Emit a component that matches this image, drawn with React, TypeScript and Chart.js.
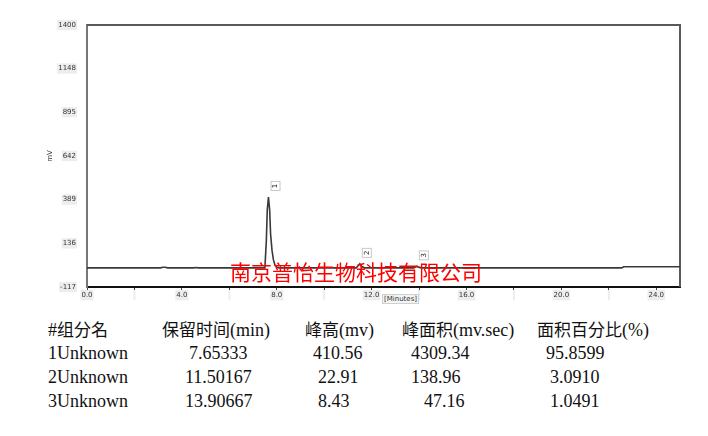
import React, { useEffect, useRef } from "react";
import { Chart, registerables } from "chart.js";

Chart.register(...registerables);

// Chromatogram trace (retention time in minutes, signal in mV)
const retentionTimes = [0, 3.1, 3.2, 3.3, 3.4, 4.5, 4.6, 4.7, 7.5, 7.56, 7.6, 7.65, 7.7, 7.74, 7.8, 7.86, 7.92, 8.0, 8.1, 11.35, 11.44, 11.5, 11.57, 11.7, 13.78, 13.86, 13.91, 13.97, 14.1, 22.55, 22.62, 25.0];
const signal = [-6, -6, -3, -3, -6, -6, -4, -6, -6, 150, 330, 404, 330, 190, 95, 40, 12, -2, -6, -6, 8, 17, 3, -6, -6, 0, 2, -2, -6, -6, 0, 0];

const yTickValues = [-117, 136, 389, 642, 895, 1148, 1400];
const xTickValues = [0, 2, 4, 6, 8, 10, 12, 14, 16, 18, 20, 22, 24];
const xLabelStep = 4;
const xTitle = "[Minutes]";
const yTitle = "mV";

// Peak table
const headers = ["#组分名", "保留时间(min)", "峰高(mv)", "峰面积(mv.sec)", "面积百分比(%)"];
const peakNames = ["1Unknown", "2Unknown", "3Unknown"];
const peakTimes = [7.65333, 11.50167, 13.90667];
const peakTimeText = ["7.65333", "11.50167", "13.90667"];
const peakHeights = [410.56, 22.91, 8.43];
const peakHeightText = ["410.56", "22.91", "8.43"];
const peakAreaText = ["4309.34", "138.96", "47.16"];
const peakPercentText = ["95.8599", "3.0910", "1.0491"];
const peakLabels = ["1", "2", "3"];
const baselineLevel = -6;

const watermark = "南京普怡生物科技有限公司";

const headerLeft = [48, 162, 305, 402, 537];
const rowLefts = [
  [48, 189, 313, 411, 546],
  [48, 185, 318, 411, 550],
  [48, 185, 318, 424, 550],
];
const headerY = 329;
const rowY = [353, 377, 401];

const framePlugin = {
  id: "frame",
  beforeDatasetsDraw(chart: any) {
    const { ctx, chartArea } = chart;
    ctx.save();
    ctx.strokeStyle = "#5a5a5a";
    ctx.lineWidth = 2;
    ctx.beginPath();
    ctx.moveTo(chartArea.left, chartArea.top);
    ctx.lineTo(chartArea.right, chartArea.top);
    ctx.lineTo(chartArea.right, chartArea.bottom);
    ctx.stroke();
    ctx.restore();
  },
};

const peakLabelPlugin = {
  id: "peakLabels",
  afterDatasetsDraw(chart: any) {
    const { ctx } = chart;
    const xs = chart.scales.x;
    const ys = chart.scales.y;
    ctx.save();
    ctx.font = "7px 'DejaVu Sans'";
    ctx.textAlign = "center";
    ctx.textBaseline = "middle";
    peakLabels.forEach((lab, i) => {
      const px = xs.getPixelForValue(peakTimes[i]) + 7;
      const py = ys.getPixelForValue(peakHeights[i] + baselineLevel) - 11;
      ctx.fillStyle = "#ffffff";
      ctx.fillRect(px - 5, py - 5, 10, 10);
      ctx.strokeStyle = "#c8c8c8";
      ctx.lineWidth = 1;
      ctx.strokeRect(px - 5 + 0.5, py - 5 + 0.5, 9, 9);
      ctx.save();
      ctx.translate(px, py);
      ctx.rotate(-Math.PI / 2);
      ctx.fillStyle = "#222";
      ctx.fillText(lab, 0, 0);
      ctx.restore();
    });
    ctx.restore();
  },
};

function ChromChart() {
  const ref = useRef<HTMLCanvasElement | null>(null);
  useEffect(() => {
    if (!ref.current) return;
    const points = retentionTimes.map((t, i) => ({ x: t, y: signal[i] }));
    const chart = new Chart(ref.current, {
      type: "line",
      data: {
        datasets: [
          {
            data: points,
            borderColor: "#3a3a3a",
            borderWidth: 1.6,
            pointRadius: 0,
            tension: 0,
            fill: false,
          },
        ],
      },
      options: {
        animation: false,
        responsive: false,
        devicePixelRatio: 1,
        layout: { padding: { top: 25, right: 28, left: 0, bottom: 0 } },
        plugins: { legend: { display: false }, tooltip: { enabled: false } },
        scales: {
          x: {
            type: "linear",
            min: 0,
            max: 25,
            afterFit: (s: any) => {
              s.height = 23;
            },
            afterBuildTicks: (s: any) => {
              s.ticks = xTickValues.map((v) => ({ value: v }));
            },
            border: { display: true, color: "#111", width: 2 },
            grid: { display: true, drawOnChartArea: false, tickLength: 3, color: "#444" },
            ticks: {
              autoSkip: false,
              maxRotation: 0,
              padding: 1,
              color: "#333",
              font: { family: "DejaVu Sans", size: 7 },
              showLabelBackdrop: true,
              backdropColor: "#ededed",
              backdropPadding: 1,
              callback: (v: any) => (Number(v) % xLabelStep === 0 ? Number(v).toFixed(1) : ""),
            },
            title: { display: false },
          },
          y: {
            type: "linear",
            min: -117,
            max: 1400,
            afterFit: (s: any) => {
              s.width = 87;
            },
            afterBuildTicks: (s: any) => {
              s.ticks = yTickValues.map((v) => ({ value: v }));
            },
            border: { display: true, color: "#777", width: 2 },
            grid: { display: false },
            ticks: {
              autoSkip: false,
              padding: 3,
              color: "#333",
              font: { family: "DejaVu Sans", size: 7 },
              showLabelBackdrop: true,
              backdropColor: "#ededed",
              backdropPadding: 1,
              callback: (v: any) => String(v),
            },
            title: {
              display: true,
              text: yTitle,
              color: "#333",
              font: { family: "DejaVu Sans", size: 7 },
              padding: { top: 46, bottom: 0 },
            },
          },
        },
      },
      plugins: [framePlugin, peakLabelPlugin],
    } as any);
    return () => chart.destroy();
  }, []);
  return (
    <canvas
      ref={ref}
      width={708}
      height={310}
      style={{ position: "absolute", left: 0, top: 0, width: 708, height: 310 }}
    />
  );
}

const CJK = /([\u3000-\u9fff\uff00-\uffef]+)/;

function MixedText({ text }: { text: string }) {
  const parts = text.split(CJK).filter((p) => p.length > 0);
  return (
    <>
      {parts.map((p, k) =>
        CJK.test(p) ? (
          <span key={k} style={{ fontFamily: "'Noto Sans CJK JP', 'Noto Sans CJK SC'", fontSize: 17, color: "#111" }}>
            {p}
          </span>
        ) : (
          <span key={k}>{p}</span>
        )
      )}
    </>
  );
}

const cellStyle = (left: number, cy: number): React.CSSProperties => ({
  position: "absolute",
  left,
  top: cy - 12,
  lineHeight: "24px",
  fontSize: 18,
  whiteSpace: "nowrap",
  color: "#111",
  fontFamily: "'Liberation Serif', serif",
});

export default function App() {
  const rows = peakNames.map((n, i) => [n, peakTimeText[i], peakHeightText[i], peakAreaText[i], peakPercentText[i]]);
  return (
    <div style={{ position: "absolute", left: 0, top: 0, width: 708, height: 436, background: "#fff", overflow: "hidden" }}>
      <ChromChart />
      <div
        style={{
          position: "absolute",
          left: 382,
          top: 294,
          fontSize: 7,
          lineHeight: "8px",
          padding: "0 1px",
          color: "#333",
          background: "#f4f4f4",
          border: "1px solid #cfcfcf",
          fontFamily: "'DejaVu Sans', sans-serif",
          whiteSpace: "nowrap",
        }}
      >
        {xTitle}
      </div>
      <div
        style={{
          position: "absolute",
          left: 230,
          top: 259,
          fontSize: 21,
          lineHeight: "24px",
          color: "#ff0000",
          fontFamily: "'Noto Sans CJK SC', sans-serif",
          whiteSpace: "nowrap",
        }}
      >
        {watermark}
      </div>
      {headers.map((h, j) => (
        <div key={"h" + j} style={cellStyle(headerLeft[j], headerY)}>
          <MixedText text={h} />
        </div>
      ))}
      {rows.map((r, i) =>
        r.map((c, j) => (
          <div key={i + "-" + j} style={cellStyle(rowLefts[i][j], rowY[i])}>
            {c}
          </div>
        ))
      )}
    </div>
  );
}
